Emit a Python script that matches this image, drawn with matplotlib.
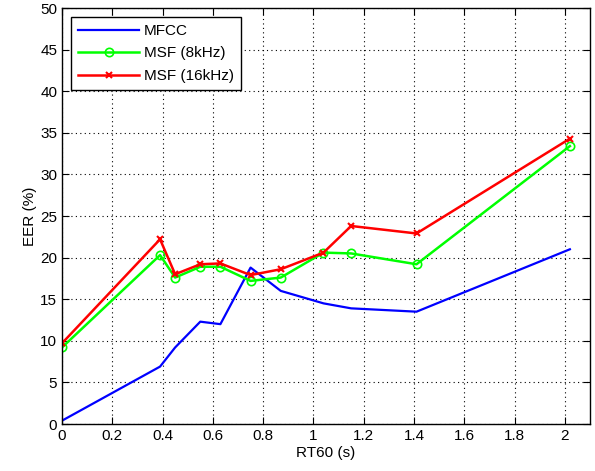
import matplotlib
matplotlib.use("Agg")
import matplotlib.pyplot as plt

plt.rcParams['font.family'] = ['Liberation Sans', 'DejaVu Sans']

rt60 = [0, 0.39, 0.45, 0.55, 0.63, 0.75, 0.87, 1.04, 1.15, 1.41, 2.02]
mfcc = [0.4, 6.9, 9.2, 12.3, 12.0, 18.8, 16.0, 14.5, 13.9, 13.5, 21.0]
msf8 = [9.2, 20.3, 17.6, 18.9, 18.9, 17.2, 17.6, 20.6, 20.5, 19.2, 33.4]
msf16 = [9.7, 22.2, 18.0, 19.2, 19.3, 17.9, 18.6, 20.6, 23.8, 22.9, 34.3]

fig = plt.figure(figsize=(5.95, 4.71), dpi=100)
ax = fig.add_axes([62/595, 1 - 424/471, (590-62)/595, (424-8)/471])

ax.plot(rt60, mfcc, color='#0000ff', lw=1.6, label='MFCC')
ax.plot(rt60, msf8, color='#00ff00', lw=1.8, marker='o', ms=6, mfc='none',
        mew=1.2, label='MSF (8kHz)')
ax.plot(rt60, msf16, color='#ff0000', lw=1.8, marker='x', ms=5, mew=1.5,
        label='MSF (16kHz)')

ax.set_xlim(0, 2.1)
ax.set_ylim(0, 50)
ax.set_xticks([0, 0.2, 0.4, 0.6, 0.8, 1, 1.2, 1.4, 1.6, 1.8, 2])
ax.set_xticklabels(['0', '0.2', '0.4', '0.6', '0.8', '1', '1.2', '1.4', '1.6', '1.8', '2'])
ax.set_yticks(range(0, 51, 5))
ax.grid(True, color='black', linestyle=(0, (1, 3)), lw=0.8)
ax.tick_params(direction='in', top=True, right=True, labelsize=11, length=5,
               width=0.8, colors='black')
for s in ax.spines.values():
    s.set_linewidth(1.0)
ax.set_xlabel('RT60 (s)', fontsize=11, labelpad=2)
ax.set_ylabel('EER (%)', fontsize=11, labelpad=2)

leg = ax.legend(loc='upper left', fontsize=11, fancybox=False, framealpha=1,
                edgecolor='black', handlelength=4.0, borderaxespad=0.6,
                labelspacing=0.55, handletextpad=0.3, borderpad=0.45)
leg.get_frame().set_linewidth(1.0)

fig.savefig('out.png', dpi=100)
